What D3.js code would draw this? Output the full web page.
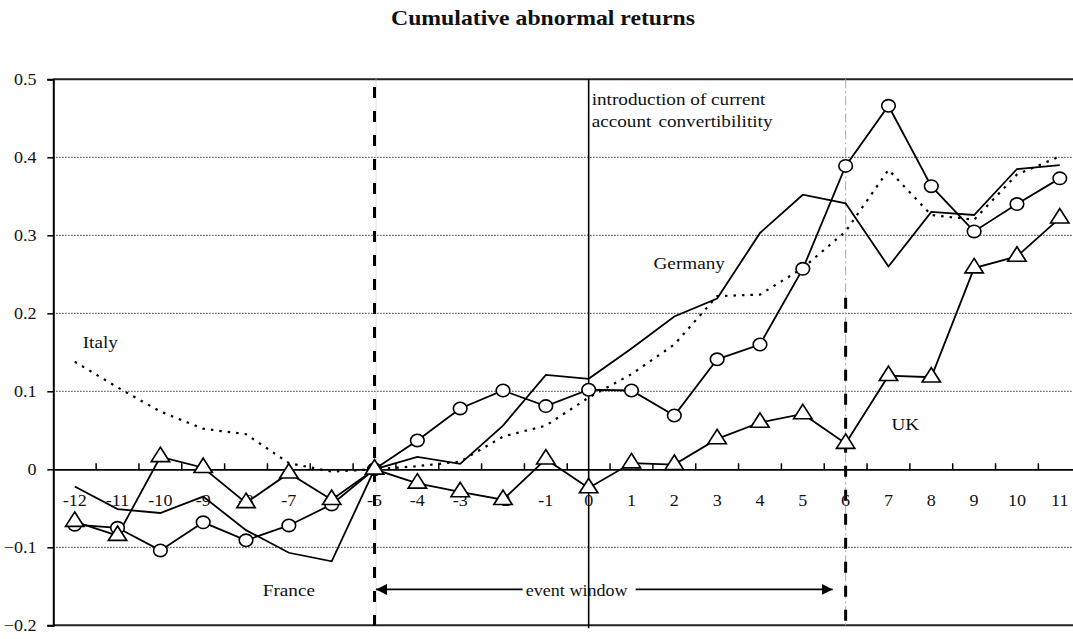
<!DOCTYPE html>
<html>
<head>
<meta charset="utf-8">
<script src="https://cdn.jsdelivr.net/npm/d3@7"></script>
<style>
  body { margin: 0; background: #fff; }
  svg { display: block; }
  text { font-family: "Times New Roman", "Liberation Serif", serif; fill: #111; }
  .tick-label { font-size: 16px; }
  .note { font-size: 17px; }
  .the-title { font-size: 21px; font-weight: bold; }
</style>
</head>
<body>
<script>
    const cars_width = 1073;
    const cars_height = 639;
    const stretch = 1.13; // the original lettering is a little wide

    // event periods (months around the introduction of convertibility)
    const periods = [-12, -11, -10, -9, -8, -7, -6, -5, -4, -3, -2, -1, 0, 1, 2, 3, 4, 5, 6, 7, 8, 9, 10, 11];
    const germany = [-0.022, -0.051, -0.056, -0.035, -0.078, -0.107, -0.118, 0, 0.016, 0.007, 0.056, 0.121, 0.116, 0.155, 0.196, 0.219, 0.303, 0.352, 0.341, 0.260, 0.330, 0.326, 0.385, 0.390];
    const france = [-0.071, -0.075, -0.104, -0.068, -0.091, -0.072, -0.045, 0, 0.037, 0.078, 0.101, 0.081, 0.102, 0.101, 0.069, 0.141, 0.160, 0.257, 0.389, 0.466, 0.363, 0.305, 0.340, 0.373];
    const uk = [-0.067, -0.085, 0.016, 0.002, -0.043, -0.005, -0.039, 0, -0.018, -0.029, -0.039, 0.013, -0.024, 0.008, 0.006, 0.039, 0.060, 0.071, 0.033, 0.120, 0.118, 0.258, 0.273, 0.322];
    const italy = [0.138, 0.105, 0.074, 0.052, 0.045, 0.008, -0.003, 0, 0.004, 0.010, 0.042, 0.056, 0.092, 0.122, 0.160, 0.222, 0.224, 0.258, 0.305, 0.384, 0.326, 0.320, 0.378, 0.401];
    const yTicks = [-0.2, -0.1, 0, 0.1, 0.2, 0.3, 0.4, 0.5];
    const gridTicks = [-0.1, 0.1, 0.2, 0.3, 0.4];

    const svg = d3.select('body').append('svg').attr('width', cars_width).attr('height', cars_height);

    const x = d3.scaleBand().domain(periods).range([53.3, 1081.2]).padding(0);
    const cx = p => x(p) + x.bandwidth() / 2;
    const y = d3.scaleLinear().domain([-0.2, 0.5]).range([625.3, 79.3]);

    function label(parent, px, py, str, cls, anchor) {
      return parent.append('text')
          .attr('class', cls)
          .attr('transform', `translate(${px},${py}) scale(${stretch},1)`)
          .attr('text-anchor', anchor || 'start')
          .text(str);
    }

    svg.append('defs').append('marker')
        .attr('id', 'arrow')
        .attr('viewBox', '0 0 10 10')
        .attr('refX', 10).attr('refY', 5)
        .attr('markerWidth', 11).attr('markerHeight', 11)
        .attr('markerUnits', 'userSpaceOnUse')
        .attr('orient', 'auto-start-reverse')
      .append('path')
        .attr('d', 'M0,0L10,5L0,10Z')
        .attr('fill', '#000');

    label(svg, 543, 25, 'Cumulative abnormal returns', 'the-title', 'middle');

    const g = svg.append('g');

    // dotted grid
    g.selectAll('line.grid')
      .data(gridTicks)
      .enter()
      .append('line')
        .attr('class', 'grid')
        .attr('x1', 53.3).attr('x2', cars_width)
        .attr('y1', d => y(d)).attr('y2', d => y(d))
        .attr('stroke', '#000').attr('stroke-width', 1)
        .attr('stroke-dasharray', '1.2,1.8');

    // frame top / bottom
    g.append('line').attr('x1', 53.3).attr('x2', cars_width).attr('y1', y(0.5)).attr('y2', y(0.5))
        .attr('stroke', '#222').attr('stroke-width', 2);
    g.append('line').attr('x1', 53.3).attr('x2', cars_width).attr('y1', y(-0.2)).attr('y2', y(-0.2))
        .attr('stroke', '#222').attr('stroke-width', 2);

    // y axis
    const yAxis = d3.axisLeft(y).tickValues(yTicks).tickSize(6).tickFormat('');
    const ya = g.append('g').attr('transform', 'translate(53.3,0)').call(yAxis);
    ya.select('.domain').attr('stroke', '#000').attr('stroke-width', 2);
    ya.selectAll('.tick line').attr('stroke', '#000').attr('stroke-width', 1.5);
    yTicks.forEach(t => {
      label(g, 36.5, y(t) + 5.5, t === 0 ? '0' : d3.format('.1f')(t), 'tick-label', 'end');
    });

    // event window boundaries
    g.append('line')
        .attr('x1', cx(-5) + 1.5).attr('x2', cx(-5) + 1.5).attr('y1', y(0.5)).attr('y2', y(-0.2))
        .attr('stroke', '#bbb').attr('stroke-width', 1).attr('stroke-dasharray', '1,1');
    g.append('line')
        .attr('x1', cx(-5)).attr('x2', cx(-5)).attr('y1', y(0.49)).attr('y2', y(-0.2))
        .attr('stroke', '#000').attr('stroke-width', 3).attr('stroke-dasharray', '11,13');
    g.append('line')
        .attr('x1', cx(6)).attr('x2', cx(6)).attr('y1', y(0.5)).attr('y2', y(-0.2))
        .attr('stroke', '#aaa').attr('stroke-width', 1).attr('stroke-dasharray', '9,3,2,3');
    g.append('line')
        .attr('x1', cx(6)).attr('x2', cx(6)).attr('y1', y(0.22)).attr('y2', y(-0.2))
        .attr('stroke', '#000').attr('stroke-width', 3).attr('stroke-dasharray', '11,13');
    // introduction line
    g.append('line')
        .attr('x1', cx(0)).attr('x2', cx(0)).attr('y1', y(0.5)).attr('y2', y(-0.2) + 3)
        .attr('stroke', '#000').attr('stroke-width', 1.6);

    // zero axis with category ticks
    const xAxis = d3.axisTop(x).tickSize(0).tickFormat('');
    const xa = g.append('g').attr('transform', `translate(0,${y(0)})`).call(xAxis);
    xa.select('.domain').attr('stroke', '#000').attr('stroke-width', 1.8);
    g.selectAll('line.xtick')
      .data(periods.slice(1))
      .enter()
      .append('line')
        .attr('class', 'xtick')
        .attr('x1', d => x(d)).attr('x2', d => x(d))
        .attr('y1', y(0)).attr('y2', y(0) - 6)
        .attr('stroke', '#000').attr('stroke-width', 1.5);
    periods.forEach(p => {
      label(g, cx(p), y(0) + 37, String(p), 'tick-label', 'middle');
    });

    const line = d3.line().x((d, i) => cx(periods[i])).y(d => y(d));

    g.append('path').datum(italy).attr('d', line)
        .attr('fill', 'none').attr('stroke', '#000').attr('stroke-width', 2.2)
        .attr('stroke-dasharray', '2.5,6');
    g.append('path').datum(germany).attr('d', line)
        .attr('fill', 'none').attr('stroke', '#000').attr('stroke-width', 1.8);
    g.append('path').datum(france).attr('d', line)
        .attr('fill', 'none').attr('stroke', '#000').attr('stroke-width', 1.8);
    g.append('path').datum(uk).attr('d', line)
        .attr('fill', 'none').attr('stroke', '#000').attr('stroke-width', 1.8);

    g.selectAll('ellipse.fr')
      .data(france)
      .enter()
      .append('ellipse')
        .attr('class', 'fr')
        .attr('cx', (d, i) => cx(periods[i])).attr('cy', d => y(d))
        .attr('rx', 6.8).attr('ry', 6.2)
        .attr('fill', '#fff').attr('stroke', '#000').attr('stroke-width', 1.6);

    const tri = d3.symbol().type(d3.symbolTriangle).size(125);
    g.selectAll('path.uk')
      .data(uk)
      .enter()
      .append('path')
        .attr('class', 'uk')
        .attr('d', tri)
        .attr('transform', (d, i) => `translate(${cx(periods[i])},${y(d)}) scale(1.08,0.98)`)
        .attr('fill', '#fff').attr('stroke', '#000').attr('stroke-width', 1.6);

    // event window arrow
    g.append('line')
        .attr('x1', cx(0) - 66).attr('x2', cx(-5) + 1.5)
        .attr('y1', y(-0.154)).attr('y2', y(-0.154))
        .attr('stroke', '#000').attr('stroke-width', 1.6)
        .attr('marker-end', 'url(#arrow)');
    g.append('line')
        .attr('x1', cx(0) + 47).attr('x2', cx(6) - 13)
        .attr('y1', y(-0.154)).attr('y2', y(-0.154))
        .attr('stroke', '#000').attr('stroke-width', 1.6)
        .attr('marker-end', 'url(#arrow)');

    label(g, cx(0) - 12, y(-0.162), 'event window', 'tick-label', 'middle');
    label(g, cx(0) + 3, y(0.467), 'introduction of current', 'note');
    label(g, cx(0) + 3, y(0.439), 'account convertibilitity', 'note').attr('word-spacing', 2);
    label(g, cx(1) + 22, y(0.257), 'Germany', 'note');
    label(g, cx(-12) + 8, y(0.156), 'Italy', 'note');
    label(g, cx(-7), y(-0.162), 'France', 'note', 'middle');
    label(g, cx(7) + 3, y(0.05), 'UK', 'note');
</script>
</body>
</html>
